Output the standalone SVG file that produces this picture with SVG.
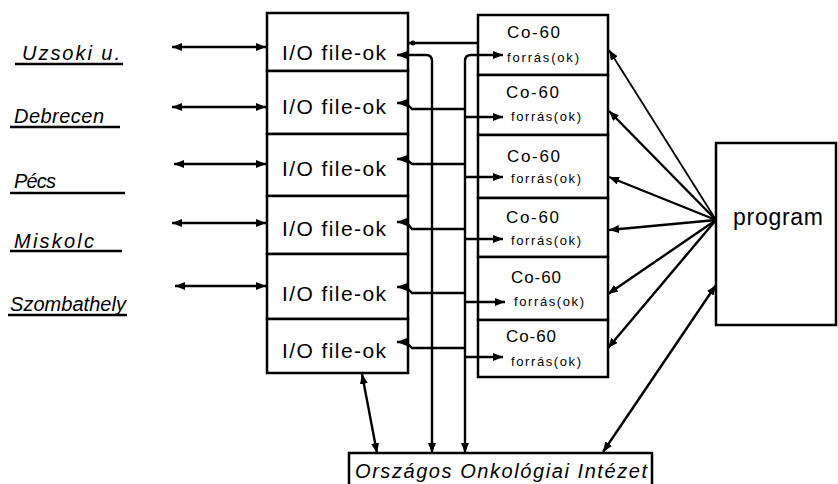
<svg xmlns="http://www.w3.org/2000/svg" width="838" height="484" viewBox="0 0 838 484">
<style>
  .box{fill:#fff;stroke:#000;stroke-width:2.5}
  .ln{fill:none;stroke:#000;stroke-width:2.4}
  .thin{fill:none;stroke:#000;stroke-width:1.8}
  .lbl{font-family:"Liberation Sans",Arial,sans-serif;font-style:italic;font-size:20px;fill:#000}
  .io{font-family:"Liberation Sans",Arial,sans-serif;font-size:21px;fill:#000}
  .co{font-family:"Liberation Sans",Arial,sans-serif;font-size:17px;fill:#000}
  .fo{font-family:"Liberation Sans",Arial,sans-serif;font-size:13px;fill:#000}
  .big{font-family:"Liberation Sans",Arial,sans-serif;font-size:23px;fill:#000}
</style>
<defs>
  <marker id="ah" viewBox="0 0 10 8" refX="10" refY="4" markerWidth="10" markerHeight="8" markerUnits="userSpaceOnUse" orient="auto-start-reverse">
    <path d="M0,0 L10,4 L0,8 z" fill="#000"/>
  </marker>
</defs>
<rect width="838" height="484" fill="#fff"/>

<g id="labels">
  <g id="uzsoki"><text class="lbl" x="22" y="60" textLength="98">Uzsoki u.</text><line class="ln" x1="15" y1="64" x2="123" y2="64"/></g>
  <g id="debrecen"><text class="lbl" x="14" y="123" textLength="90">Debrecen</text><line class="ln" x1="10" y1="127" x2="120" y2="127"/></g>
  <g id="pecs"><text class="lbl" x="14" y="188" textLength="42">Pécs</text><line class="ln" x1="10" y1="193" x2="125" y2="193"/></g>
  <g id="miskolc"><text class="lbl" x="14" y="248" textLength="80">Miskolc</text><line class="ln" x1="10" y1="251" x2="122" y2="251"/></g>
  <g id="szombathely"><text class="lbl" x="10" y="311" textLength="116">Szombathely</text><line class="ln" x1="8" y1="315" x2="127" y2="315"/></g>
</g>

<g id="io-files">
  <g id="io1"><rect class="box" x="267" y="13" width="141" height="58"/><text class="io" x="282" y="60" textLength="104">I/O file-ok</text></g>
  <g id="io2"><rect class="box" x="267" y="71" width="141" height="63"/><text class="io" x="282" y="114" textLength="104">I/O file-ok</text></g>
  <g id="io3"><rect class="box" x="267" y="134" width="141" height="62"/><text class="io" x="282" y="176" textLength="104">I/O file-ok</text></g>
  <g id="io4"><rect class="box" x="267" y="196" width="141" height="58"/><text class="io" x="282" y="236" textLength="104">I/O file-ok</text></g>
  <g id="io5"><rect class="box" x="267" y="254" width="141" height="65"/><text class="io" x="282" y="301" textLength="104">I/O file-ok</text></g>
  <g id="io6"><rect class="box" x="267" y="319" width="141" height="54"/><text class="io" x="282" y="358" textLength="104">I/O file-ok</text></g>
</g>

<g id="co60-sources">
  <g id="co1"><rect class="box" x="478" y="15" width="130" height="60"/><text class="co" x="507" y="38" textLength="53">Co-60</text><text class="fo" x="507" y="62" textLength="72">forrás(ok)</text></g>
  <g id="co2"><rect class="box" x="478" y="75" width="130" height="60"/><text class="co" x="506" y="98" textLength="53">Co-60</text><text class="fo" x="511" y="121" textLength="70">forrás(ok)</text></g>
  <g id="co3"><rect class="box" x="478" y="135" width="130" height="63"/><text class="co" x="507" y="162" textLength="53">Co-60</text><text class="fo" x="511" y="183" textLength="70">forrás(ok)</text></g>
  <g id="co4"><rect class="box" x="478" y="198" width="130" height="59"/><text class="co" x="506" y="223" textLength="53">Co-60</text><text class="fo" x="511" y="245" textLength="70">forrás(ok)</text></g>
  <g id="co5"><rect class="box" x="478" y="257" width="130" height="63"/><text class="co" x="511" y="283" textLength="50">Co-60</text><text class="fo" x="514" y="306" textLength="70">forrás(ok)</text></g>
  <g id="co6"><rect class="box" x="478" y="320" width="130" height="57"/><text class="co" x="506" y="342" textLength="50">Co-60</text><text class="fo" x="511" y="366" textLength="70">forrás(ok)</text></g>
</g>

<g id="program"><rect class="box" x="716" y="143" width="120" height="182"/><text class="big" x="733" y="225" textLength="90">program</text></g>

<g id="ooi"><rect class="box" x="349" y="453" width="303" height="40"/><text class="lbl" x="355" y="478" textLength="292">Országos  Onkológiai  Intézet</text></g>

<g id="connectors">
  <!-- left double arrows -->
  <line class="ln" x1="172" y1="47" x2="266" y2="47" marker-start="url(#ah)" marker-end="url(#ah)"/>
  <line class="ln" x1="172" y1="107" x2="266" y2="107" marker-start="url(#ah)" marker-end="url(#ah)"/>
  <line class="ln" x1="174" y1="164" x2="266" y2="164" marker-start="url(#ah)" marker-end="url(#ah)"/>
  <line class="ln" x1="172" y1="223" x2="266" y2="223" marker-start="url(#ah)" marker-end="url(#ah)"/>
  <line class="ln" x1="175" y1="286" x2="266" y2="286" marker-start="url(#ah)" marker-end="url(#ah)"/>

  <!-- direct top link -->
  <line class="ln" x1="408" y1="43" x2="478" y2="43"/>
  <circle cx="413" cy="43" r="2.5"/>

  <!-- buses -->
  <path class="ln" d="M397,55 H426 Q432,55 432,61 V453" marker-start="url(#ah)" marker-end="url(#ah)"/>
  <path class="ln" d="M503,55 H471 Q465,55 465,61 V453" marker-start="url(#ah)" marker-end="url(#ah)"/>

  <!-- rows: I/O arrows and cross links -->
  <path class="ln" d="M465,109 H412 L406,103 H397" marker-end="url(#ah)"/>
  <path class="ln" d="M465,164 H412 L406,159 H397" marker-end="url(#ah)"/>
  <path class="ln" d="M465,229 H412 L406,222 H397" marker-end="url(#ah)"/>
  <path class="ln" d="M465,293 H412 L406,287 H397" marker-end="url(#ah)"/>
  <path class="ln" d="M465,348 H412 L406,342 H397" marker-end="url(#ah)"/>

  <!-- Co-60 arrows -->
  <line class="ln" x1="465" y1="117" x2="503" y2="117" marker-end="url(#ah)"/>
  <line class="ln" x1="465" y1="177" x2="503" y2="177" marker-end="url(#ah)"/>
  <line class="ln" x1="465" y1="239" x2="503" y2="239" marker-end="url(#ah)"/>
  <line class="ln" x1="465" y1="302" x2="505" y2="302" marker-end="url(#ah)"/>
  <line class="ln" x1="465" y1="357" x2="503" y2="357" marker-end="url(#ah)"/>

  <!-- I/O to Onkológiai -->
  <line class="ln" x1="362" y1="374" x2="377" y2="453" marker-start="url(#ah)" marker-end="url(#ah)"/>

  <!-- program links -->
  <line class="thin" x1="716" y1="220" x2="609" y2="50" marker-end="url(#ah)"/>
  <line class="ln" x1="716" y1="220" x2="609" y2="111" marker-end="url(#ah)"/>
  <line class="ln" x1="716" y1="220" x2="609" y2="177" marker-end="url(#ah)"/>
  <line class="ln" x1="716" y1="220" x2="609" y2="230" marker-end="url(#ah)"/>
  <line class="ln" x1="716" y1="220" x2="608" y2="294" marker-end="url(#ah)"/>
  <line class="ln" x1="716" y1="220" x2="608" y2="348" marker-end="url(#ah)"/>
  <line class="ln" x1="716" y1="285" x2="603" y2="452" marker-start="url(#ah)" marker-end="url(#ah)"/>
</g>
</svg>
